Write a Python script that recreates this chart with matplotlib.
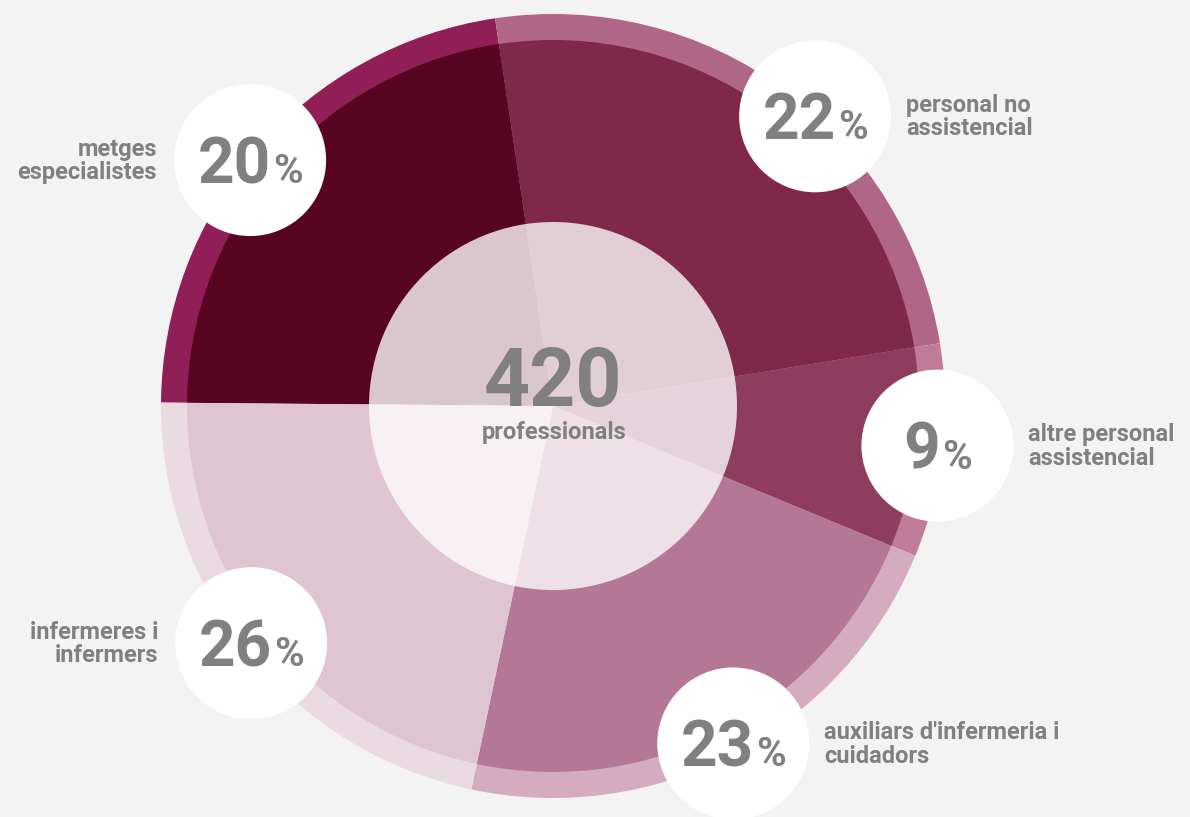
import matplotlib
matplotlib.use("Agg")
import matplotlib.pyplot as plt
from matplotlib.patches import Circle
import numpy as np

# staff mix, 420 professionals
labels = ["metges\nespecialistes", "personal no\nassistencial", "altre personal\nassistencial",
          "auxiliars d'infermeria i\ncuidadors", "infermeres i\ninfermers"]
pct = [20, 22, 9, 23, 26]
# share of the circle each slice takes in the drawing (read off the picture, not equal to pct)
share = [22.5, 24.8, 8.8, 22.1, 21.8]
total = 420
total_label = "professionals"

wedge_colors = ["#570421", "#7F2849", "#8E3D5F", "#B47795", "#DFC4D1"]
ring_colors = ["#8F1F56", "#B06686", "#BF7B98", "#D4ABBF", "#EADAE1"]
grey = "#808080"
bg = "#F3F3F3"

plt.rcParams['font.family'] = ['Roboto', 'DejaVu Sans']

W, H = 1190, 817
fig = plt.figure(figsize=(W / 100, H / 100), dpi=100, facecolor=bg)
ax = fig.add_axes([0, 0, 1, 1])
ax.set_facecolor(bg)

cx, cy = 553, H - 406
R_out, R_in, R_hole = 392, 366, 184
start = 179.5

ax.pie(share, colors=ring_colors, radius=R_out, center=(cx, cy), startangle=start,
       counterclock=False, wedgeprops=dict(linewidth=0))
ax.pie(share, colors=wedge_colors, radius=R_in, center=(cx, cy), startangle=start,
       counterclock=False, wedgeprops=dict(linewidth=0))
ax.add_patch(Circle((cx, cy), R_hole, facecolor="white", alpha=0.78, lw=0, zorder=3))

ax.set_xlim(0, W)
ax.set_ylim(0, H)
ax.axis('off')

ax.text(cx, cy, str(total), ha='center', va='baseline', fontsize=58, fontweight='bold',
        color=grey, zorder=5)
ax.text(cx + 1, cy - 33, total_label, ha='center', va='baseline', fontsize=17,
        fontweight='bold', color=grey, zorder=5)

# badges sit on the rim at each slice's middle angle (orbit a touch above the pie centre)
edges = start - np.cumsum([0] + share) * 3.6
mids = (edges[:-1] + edges[1:]) / 2
nudge = [2.5, -6.5, 0, 0, 0]
badge_r, badge_size, lift = 387, 76, 5

renderer = fig.canvas.get_renderer()
for i in range(len(pct)):
    a = np.radians(mids[i] + nudge[i])
    bx, by = cx + badge_r * np.cos(a), cy + lift + badge_r * np.sin(a)
    ax.add_patch(Circle((bx, by), badge_size, facecolor="white", lw=0, zorder=6))

    num = ax.text(0, by - 23, str(pct[i]), ha='left', va='baseline', fontsize=46,
                  fontweight='bold', color=grey, zorder=7)
    sign = ax.text(0, by - 23, "%", ha='left', va='baseline', fontsize=29,
                   fontweight='bold', color=grey, zorder=7)
    wn = num.get_window_extent(renderer).width
    ws = sign.get_window_extent(renderer).width
    gap = 2
    left = bx - (wn + gap + ws) / 2
    num.set_x(left)
    sign.set_x(left + wn + gap)

    if np.cos(a) < 0:
        ax.text(bx - 93, by - 1, labels[i], ha='right', va='center', fontsize=17,
                fontweight='bold', color=grey, linespacing=1.02, multialignment='right')
    else:
        ax.text(bx + 91, by - 1, labels[i], ha='left', va='center', fontsize=17,
                fontweight='bold', color=grey, linespacing=1.02)

fig.savefig("out.png", dpi=100, facecolor=bg)
